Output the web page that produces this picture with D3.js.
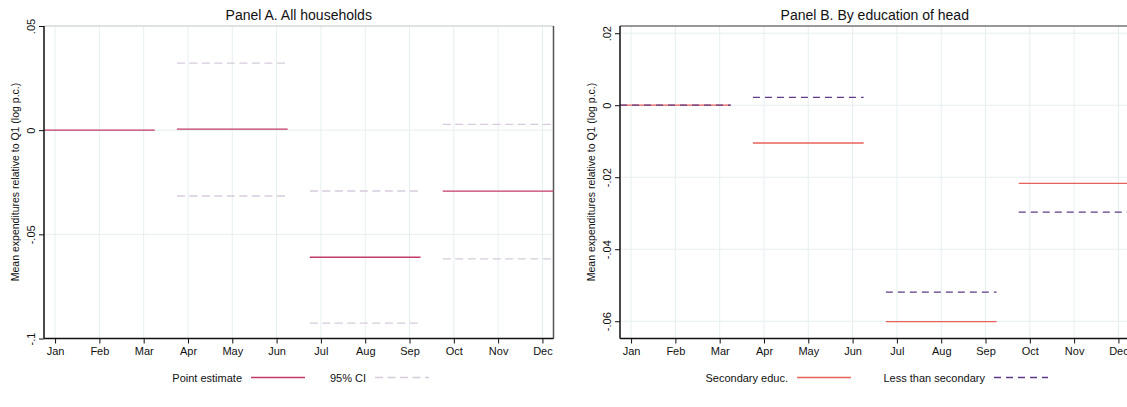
<!DOCTYPE html>
<html>
<head>
<meta charset="utf-8">
<script src="https://cdn.jsdelivr.net/npm/d3@7"></script>
<style>
  body { margin: 0; background: #fff; }
  text { font-family: "Liberation Sans", Arial, sans-serif; fill: #111; }
</style>
</head>
<body>
<svg id="chart" width="1127" height="407"></svg>
<script>
const months = ['Jan', 'Feb', 'Mar', 'Apr', 'May', 'Jun', 'Jul', 'Aug', 'Sep', 'Oct', 'Nov', 'Dec'];
const quarterStart = [1, 4, 7, 10];

// Panel A: all households
const pointEst = [0, 0.0005, -0.0610, -0.0293];
const ciUpper = [null, 0.0322, -0.0292, 0.0028];
const ciLower = [null, -0.0316, -0.0926, -0.0618];
const ticksA = [0.05, 0, -0.05, -0.1];

// Panel B: by education of head
const secondary = [0, -0.0105, -0.0601, -0.0217];
const lessSecondary = [0, 0.0022, -0.0519, -0.0297];
const ticksB = [0.02, 0, -0.02, -0.04, -0.06];

const svg = d3.select('#chart');
// stata style labels: no leading zero
const stata = v => String(+v.toFixed(3)).replace(/^(-?)0\./, '$1.');

function drawPanel(p) {
  const g = svg.append('g');
  const x = d3.scaleLinear().domain([0.75, 12.25]).range([p.left, p.left + 509.5]);
  const y = d3.scaleLinear().domain(p.yDomain).range([338.5, 26]);

  // grid
  g.append('g').selectAll('line')
    .data(d3.range(1, 13))
    .join('line')
    .attr('x1', d => x(d)).attr('x2', d => x(d))
    .attr('y1', 26).attr('y2', 338.5)
    .attr('stroke', '#e6eff0').attr('stroke-width', 1);
  g.append('g').selectAll('line')
    .data(p.ticks)
    .join('line')
    .attr('x1', p.left).attr('x2', x(12.25))
    .attr('y1', d => y(d)).attr('y2', d => y(d))
    .attr('stroke', '#e6eff0').attr('stroke-width', 1);

  // frame
  g.append('line')
    .attr('x1', p.left).attr('x2', x(12.25)).attr('y1', 26).attr('y2', 26)
    .attr('stroke', p.topColor).attr('stroke-width', 1.2);
  g.append('line')
    .attr('x1', x(12.25)).attr('x2', x(12.25)).attr('y1', 26).attr('y2', 338.5)
    .attr('stroke', '#555').attr('stroke-width', 1.5);

  // series
  p.series.forEach(s => {
    g.append('g').selectAll('line')
      .data(s.values.map((v, i) => ({ v, q: quarterStart[i] })).filter(d => d.v !== null))
      .join('line')
      .attr('x1', d => x(d.q - 0.25)).attr('x2', d => x(d.q + 2.25))
      .attr('y1', d => y(d.v)).attr('y2', d => y(d.v))
      .attr('stroke', s.color).attr('stroke-width', 1.3)
      .attr('stroke-dasharray', s.dash || null);
  });

  // axes
  const xAxis = g.append('g')
    .attr('transform', 'translate(0,338.5)')
    .call(d3.axisBottom(x).tickValues(d3.range(1, 13)).tickFormat(d => months[d - 1]).tickSize(5).tickPadding(4));
  xAxis.select('.domain').attr('d', `M${p.left},0H${x(12.25)}`).attr('stroke', '#111').attr('stroke-width', 1.5);
  xAxis.selectAll('.tick line').attr('stroke', '#111');
  xAxis.selectAll('text').style('font-size', '11px').attr('fill', '#111');

  const yAxis = g.append('g')
    .attr('transform', `translate(${p.left},0)`)
    .call(d3.axisLeft(y).tickValues(p.ticks).tickFormat(stata).tickSize(5));
  yAxis.select('.domain').attr('d', `M0,26V338.5`).attr('stroke', '#111').attr('stroke-width', 1.5);
  yAxis.selectAll('.tick line').attr('stroke', '#111');
  yAxis.selectAll('text')
    .attr('x', null).attr('dy', null)
    .attr('text-anchor', 'middle')
    .attr('transform', 'translate(-9,0) rotate(-90)')
    .style('font-size', '11px').attr('fill', '#111');

  // titles
  g.append('text')
    .attr('x', x(6.5)).attr('y', 20)
    .attr('text-anchor', 'middle')
    .style('font-size', '14px')
    .text(p.title);
  g.append('text')
    .attr('transform', `translate(${p.left - 25},182) rotate(-90)`)
    .attr('text-anchor', 'middle')
    .style('font-size', '10.5px')
    .text('Mean expenditures relative to Q1 (log p.c.)');

  // legend
  p.legend.forEach(l => {
    g.append('text')
      .attr('x', l.tx).attr('y', 382)
      .attr('text-anchor', 'end')
      .style('font-size', '11px')
      .text(l.label);
    g.append('line')
      .attr('x1', l.tx + 9).attr('x2', l.tx + 63)
      .attr('y1', 377.5).attr('y2', 377.5)
      .attr('stroke', l.color).attr('stroke-width', 1.3)
      .attr('stroke-dasharray', l.dash || null);
  });
}

drawPanel({
  left: 44,
  yDomain: [-0.1, 0.05],
  ticks: ticksA,
  title: 'Panel A. All households',
  topColor: '#c9cdcd',
  series: [
    { values: ciUpper, color: '#d6cbdc', dash: '8,4.5' },
    { values: ciLower, color: '#d6cbdc', dash: '8,4.5' },
    { values: pointEst, color: '#c23b64' }
  ],
  legend: [
    { label: 'Point estimate', tx: 242, color: '#c23b64' },
    { label: '95% CI', tx: 366, color: '#d6cbdc', dash: '8,4.5' }
  ]
});

drawPanel({
  left: 620,
  yDomain: [-0.0648, 0.022],
  ticks: ticksB,
  title: 'Panel B. By education of head',
  topColor: '#333',
  series: [
    { values: secondary, color: '#e8605a' },
    { values: lessSecondary, color: '#5e3c85', dash: '7,5' }
  ],
  legend: [
    { label: 'Secondary educ.', tx: 788, color: '#e8605a' },
    { label: 'Less than secondary', tx: 985, color: '#5e3c85', dash: '7,5' }
  ]
});
</script>
</body>
</html>
